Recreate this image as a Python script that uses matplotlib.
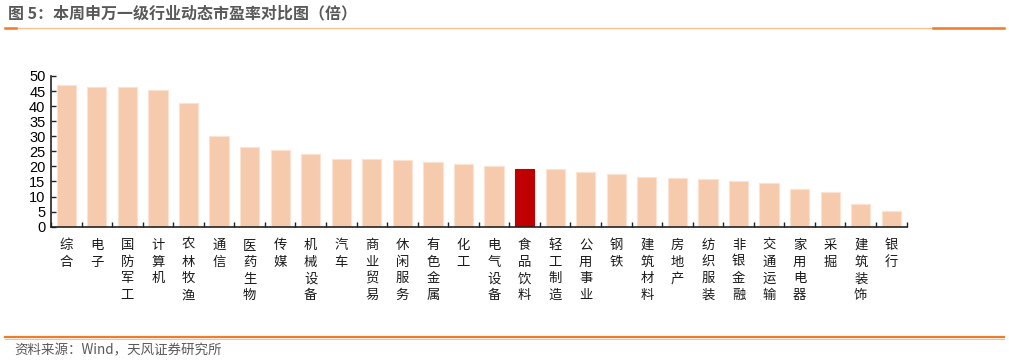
import matplotlib
matplotlib.use("Agg")
import matplotlib.pyplot as plt
from matplotlib.lines import Line2D

plt.rcParams['font.family'] = ['Noto Sans CJK SC', 'DejaVu Sans']

# data
industries = ['综合', '电子', '国防军工', '计算机', '农林牧渔', '通信', '医药生物', '传媒',
              '机械设备', '汽车', '商业贸易', '休闲服务', '有色金属', '化工', '电气设备',
              '食品饮料', '轻工制造', '公用事业', '钢铁', '建筑材料', '房地产', '纺织服装',
              '非银金融', '交通运输', '家用电器', '采掘', '建筑装饰', '银行']
pe_ratio = [47.0, 46.5, 46.5, 45.5, 41.0, 30.1, 26.5, 25.6,
            24.1, 22.5, 22.5, 22.2, 21.5, 20.7, 20.0,
            19.3, 19.1, 18.2, 17.5, 16.5, 16.1, 15.9,
            15.1, 14.5, 12.5, 11.5, 7.5, 5.1]
highlight = '食品饮料'
y_ticks = list(range(0, 55, 5))

fig = plt.figure(figsize=(10.09, 3.61), dpi=100)
ax = fig.add_axes([0.0505, 0.372, 0.848, 0.4175])

x = list(range(len(industries)))
colors = ['#C00000' if name == highlight else '#F6CAAC' for name in industries]
edges = ['#C00000' if name == highlight else '#FBE2D2' for name in industries]
ax.bar(x, pe_ratio, width=0.63, color=colors, edgecolor=edges, linewidth=0.8)

ax.set_xlim(-0.5, len(industries) - 0.5)
ax.set_ylim(0, 50)
ax.set_yticks(y_ticks)
ax.set_yticklabels([str(v) for v in y_ticks], family='Liberation Sans', fontsize=10.5)

# category labels, written top to bottom
ax.set_xticks(x)
ax.set_xticklabels(['\n'.join(name) for name in industries], fontsize=9.6,
                   va='top', linespacing=1.25, color='#1a1a1a')
ax.tick_params(axis='x', which='major', length=0, pad=8)
ax.set_xticks([i - 0.5 for i in range(len(industries) + 1)], minor=True)
ax.tick_params(axis='x', which='minor', direction='in', length=3.5, width=1, color='#222222')
ax.tick_params(axis='y', direction='in', length=3.5, width=1, color='#222222', pad=4)

for side in ['top', 'right']:
    ax.spines[side].set_visible(False)
for side in ['left', 'bottom']:
    ax.spines[side].set_color('#222222')
    ax.spines[side].set_linewidth(1.2)

# header and footer
fig.text(0.008, 0.962, '图 5：本周申万一级行业动态市盈率对比图（倍）', fontsize=11.5,
         color='#595959', weight='bold', va='center', ha='left')
fig.add_artist(Line2D([0.005, 0.995], [0.923, 0.923], color='#FAC28E', linewidth=1.0,
                      transform=fig.transFigure))
fig.add_artist(Line2D([0.005, 0.016], [0.923, 0.923], color='#EE7D2A', linewidth=1.8,
                      transform=fig.transFigure))
fig.add_artist(Line2D([0.925, 0.995], [0.923, 0.923], color='#EE7D2A', linewidth=1.8,
                      transform=fig.transFigure))
fig.add_artist(Line2D([0.005, 0.995], [0.067, 0.067], color='#EE7D2A', linewidth=1.6,
                      transform=fig.transFigure))
fig.add_artist(Line2D([0.005, 0.995], [0.061, 0.061], color='#FAC28E', linewidth=0.8,
                      transform=fig.transFigure))
fig.text(0.014, 0.030, '资料来源：Wind，天风证券研究所', fontsize=9.7,
         color='#595959', va='center', ha='left')

fig.savefig('out.png', dpi=100, facecolor='white')
